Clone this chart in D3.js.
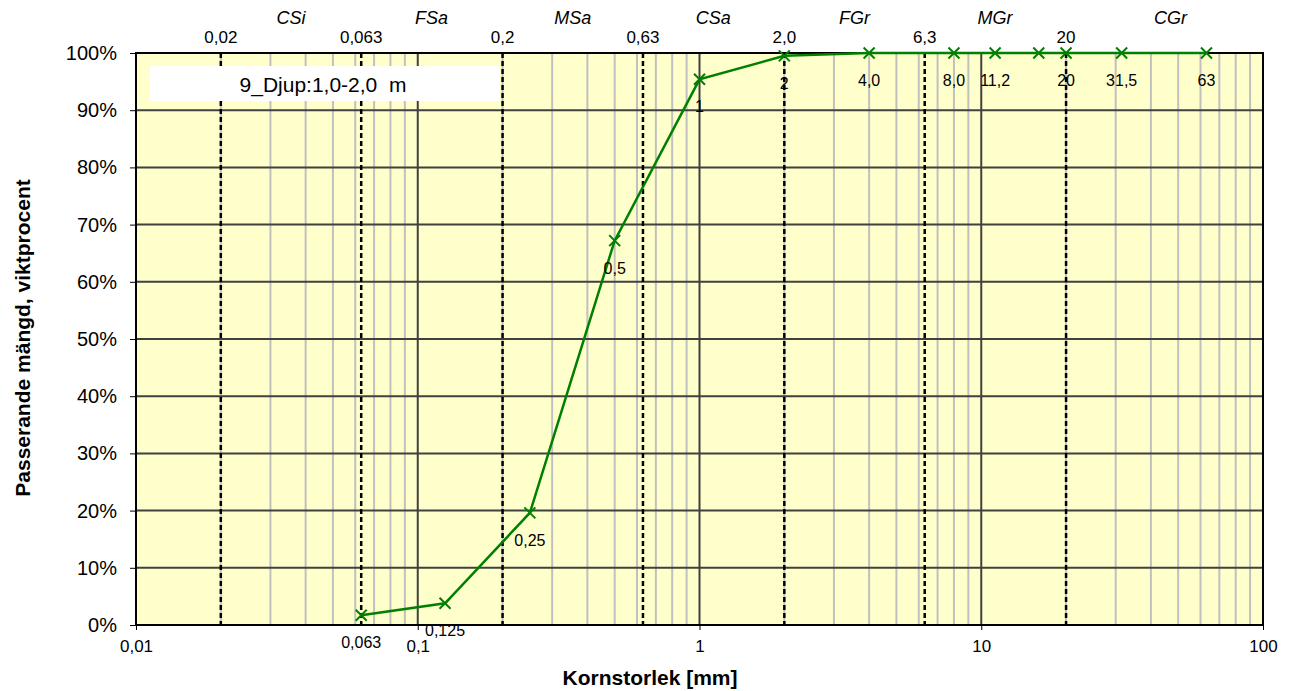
<!DOCTYPE html>
<html>
<head>
<meta charset="utf-8">
<script src="https://cdn.jsdelivr.net/npm/d3@7"></script>
<style>
  body { margin: 0; background: #fff; }
  svg { font-family: Arial, "Liberation Sans", sans-serif; }
</style>
</head>
<body>
<svg id="chart"></svg>
<script>
// Sieve data (mm, passing %)
const sizes = [0.063, 0.125, 0.25, 0.5, 1, 2, 4, 8, 11.2, 16, 20, 31.5, 63];
const passing = [1.7, 3.8, 19.6, 67.2, 95.4, 99.5, 100, 100, 100, 100, 100, 100, 100];
const pointLabels = ['0,063', '0,125', '0,25', '0,5', '1', '2', '4,0', '8,0', '11,2', '', '20', '31,5', '63'];

// Fraction boundaries (dashed) and their labels
const bounds = [0.02, 0.063, 0.2, 0.63, 2, 6.3, 20];
const boundLabels = ['0,02', '0,063', '0,2', '0,63', '2,0', '6,3', '20'];
const fractions = ['CSi', 'FSa', 'MSa', 'CSa', 'FGr', 'MGr', 'CGr'];
const fractionCenters = [0.0355, 0.112, 0.355, 1.12, 3.55, 11.2, 47];

const xTicks = [0.01, 0.1, 1, 10, 100];
const xTickLabels = ['0,01', '0,1', '1', '10', '100'];
const yTicks = [0, 10, 20, 30, 40, 50, 60, 70, 80, 90, 100];
const legendText = '9_Djup:1,0-2,0  m';

const width = 1290, height = 691;
const margin = { top: 53, right: 27, bottom: 66, left: 136 };
const innerWidth = width - margin.left - margin.right;
const innerHeight = height - margin.top - margin.bottom;

const svg = d3.select('#chart').attr('width', width).attr('height', height);
const g = svg.append('g').attr('transform', `translate(${margin.left},${margin.top})`);

const x = d3.scaleLog().domain([0.01, 100]).range([0, innerWidth]);
const y = d3.scaleLinear().domain([0, 100]).range([innerHeight, 0]);

// plot background
g.append('rect')
  .attr('width', innerWidth).attr('height', innerHeight)
  .attr('fill', '#ffffcc');

// minor vertical grid (2..9 of each decade)
const minor = [];
[0.01, 0.1, 1, 10].forEach(d => { for (let k = 2; k <= 9; k++) minor.push(d * k); });
g.append('g').selectAll('line').data(minor).join('line')
  .attr('x1', d => x(d)).attr('x2', d => x(d))
  .attr('y1', 0).attr('y2', innerHeight)
  .attr('stroke', '#c0c0c0').attr('stroke-width', 2);

// major vertical grid
g.append('g').selectAll('line').data([0.1, 1, 10]).join('line')
  .attr('x1', d => x(d)).attr('x2', d => x(d))
  .attr('y1', 0).attr('y2', innerHeight)
  .attr('stroke', '#404040').attr('stroke-width', 2);

// horizontal grid
g.append('g').selectAll('line').data(yTicks.slice(1, -1)).join('line')
  .attr('x1', 0).attr('x2', innerWidth)
  .attr('y1', d => y(d)).attr('y2', d => y(d))
  .attr('stroke', '#404040').attr('stroke-width', 2);

// dashed fraction boundaries
g.append('g').selectAll('line').data(bounds).join('line')
  .attr('x1', d => x(d)).attr('x2', d => x(d))
  .attr('y1', 0).attr('y2', innerHeight)
  .attr('stroke', '#000').attr('stroke-width', 2.5)
  .attr('stroke-dasharray', '5,3');

// boundary labels above plot
g.append('g').selectAll('text').data(bounds).join('text')
  .attr('x', d => x(d)).attr('y', -10)
  .attr('text-anchor', 'middle')
  .style('font-size', '17px')
  .text((d, i) => boundLabels[i]);

// fraction names
g.append('g').selectAll('text').data(fractionCenters).join('text')
  .attr('x', d => x(d)).attr('y', -29)
  .attr('text-anchor', 'middle')
  .style('font-size', '18px').style('font-style', 'italic')
  .text((d, i) => fractions[i]);

// legend box
g.append('rect')
  .attr('x', 14).attr('y', 13).attr('width', 350).attr('height', 35)
  .attr('fill', '#fff');
g.append('text')
  .attr('x', 187).attr('y', 39)
  .attr('text-anchor', 'middle')
  .style('font-size', '21px').style('white-space', 'pre')
  .text(legendText);

// plot border
g.append('rect')
  .attr('width', innerWidth).attr('height', innerHeight)
  .attr('fill', 'none').attr('stroke', '#000').attr('stroke-width', 2);

// axes
const yAxis = g.append('g')
  .call(d3.axisLeft(y).tickValues(yTicks).tickFormat(d => d + '%').tickSize(6).tickPadding(13));
yAxis.select('.domain').remove();
yAxis.selectAll('line').attr('stroke', '#000').attr('stroke-width', 1);
yAxis.selectAll('text').style('font-size', '20px').style('font-family', 'Arial, "Liberation Sans", sans-serif').attr('fill', '#000');

const xAxis = g.append('g').attr('transform', `translate(0,${innerHeight})`)
  .call(d3.axisBottom(x).tickValues(xTicks).tickFormat((d, i) => xTickLabels[i]).tickSize(5).tickPadding(10));
xAxis.select('.domain').remove();
xAxis.selectAll('line').attr('stroke', '#000').attr('stroke-width', 1);
xAxis.selectAll('text').style('font-size', '17px').style('font-family', 'Arial, "Liberation Sans", sans-serif').attr('fill', '#000');

// passing curve
const pts = sizes.map((s, i) => [s, passing[i]]);
g.append('path')
  .attr('d', d3.line().x(d => x(d[0])).y(d => y(d[1]))(pts))
  .attr('fill', 'none').attr('stroke', '#008000').attr('stroke-width', 2.5);

// x markers
const m = 5.5;
g.append('g').selectAll('path').data(pts).join('path')
  .attr('d', d => {
    const cx = x(d[0]), cy = y(d[1]);
    return `M${cx - m},${cy - m}L${cx + m},${cy + m}M${cx - m},${cy + m}L${cx + m},${cy - m}`;
  })
  .attr('stroke', '#008000').attr('stroke-width', 2);

// point labels below each point
g.append('g').selectAll('text').data(pts).join('text')
  .attr('x', d => x(d[0]))
  .attr('y', d => y(d[1]) + 33)
  .attr('text-anchor', 'middle')
  .style('font-size', '16px')
  .text((d, i) => pointLabels[i]);

// axis titles
svg.append('text')
  .attr('x', 650).attr('y', 685)
  .attr('text-anchor', 'middle')
  .style('font-size', '21px').style('font-weight', 'bold')
  .text('Kornstorlek [mm]');

svg.append('text')
  .attr('transform', 'rotate(-90)')
  .attr('x', -338).attr('y', 30)
  .attr('text-anchor', 'middle')
  .style('font-size', '21px').style('font-weight', 'bold')
  .text('Passerande mängd, viktprocent');
</script>
</body>
</html>
